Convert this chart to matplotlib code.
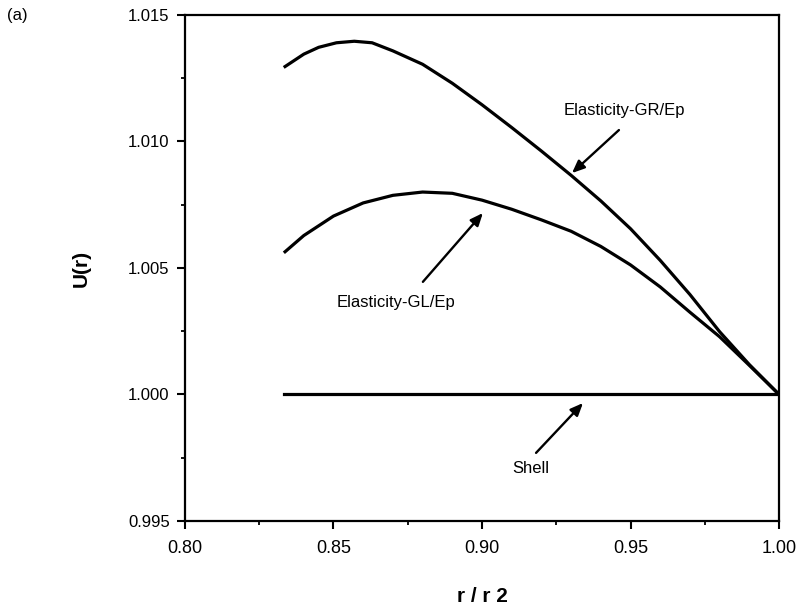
import numpy as np
import matplotlib
matplotlib.use("Agg")
import matplotlib.pyplot as plt

plt.rcParams['font.family'] = ['Liberation Sans', 'DejaVu Sans']

# values (r/r2, U(r))
r_gr = [0.8337, 0.8400, 0.8450, 0.8510, 0.8570, 0.8630, 0.8700, 0.8800, 0.8900,
        0.9000, 0.9100, 0.9200, 0.9300, 0.9400, 0.9500, 0.9600, 0.9700, 0.9800,
        0.9900, 1.0000]
u_gr = [1.01296, 1.01345, 1.01372, 1.01390, 1.01396, 1.01390, 1.01358, 1.01305, 1.01230,
        1.01145, 1.01055, 1.00962, 1.00866, 1.00765, 1.00655, 1.00530, 1.00395, 1.00248,
        1.00118, 1.00000]

r_gl = [0.8337, 0.8400, 0.8500, 0.8600, 0.8700, 0.8800, 0.8900, 0.9000, 0.9100,
        0.9200, 0.9300, 0.9400, 0.9500, 0.9600, 0.9700, 0.9800, 0.9900, 1.0000]
u_gl = [1.00564, 1.00628, 1.00705, 1.00757, 1.00787, 1.00800, 1.00795, 1.00768, 1.00732,
        1.00690, 1.00645, 1.00585, 1.00512, 1.00425, 1.00325, 1.00228, 1.00115, 1.00000]

r_shell = [0.8333, 1.0000]
u_shell = [1.0000, 1.0000]

fig = plt.figure(figsize=(7.99, 6.10), dpi=100)
ax = fig.add_axes([0.2315, 0.146, 0.7435, 0.8295])

lw = 2.3
ax.plot(r_gr, u_gr, color='black', lw=lw)
ax.plot(r_gl, u_gl, color='black', lw=lw)
ax.plot(r_shell, u_shell, color='black', lw=lw)

ax.set_xlim(0.80, 1.00)
ax.set_ylim(0.995, 1.015)
ax.set_xticks([0.80, 0.85, 0.90, 0.95, 1.00])
ax.set_xticklabels(['0.80', '0.85', '0.90', '0.95', '1.00'])
ax.set_yticks([0.995, 1.000, 1.005, 1.010, 1.015])
ax.set_yticklabels(['0.995', '1.000', '1.005', '1.010', '1.015'])
ax.set_xticks([0.825, 0.875, 0.925, 0.975], minor=True)
ax.set_yticks([0.9975, 1.0025, 1.0075, 1.0125], minor=True)

for s in ax.spines.values():
    s.set_linewidth(1.6)
ax.tick_params(axis='both', which='major', direction='out', width=1.5, length=6, labelsize=12)
ax.tick_params(axis='both', which='minor', direction='out', width=1.3, length=3)
ax.tick_params(axis='x', which='major', pad=8, labelsize=13)
ax.tick_params(axis='y', which='major', pad=5)

ax.set_xlabel('r / r 2', fontsize=15, fontweight='bold', labelpad=21)
ax.set_ylabel('U(r)', fontsize=15, fontweight='bold', labelpad=27)

arrow = dict(arrowstyle='-|>,head_length=0.75,head_width=0.32', color='black', lw=1.7,
             shrinkA=0, shrinkB=0)
ax.text(0.9478, 1.01124, 'Elasticity-GR/Ep', fontsize=12, ha='center', va='center')
ax.annotate('', xy=(0.9303, 1.00875), xytext=(0.9461, 1.01045), arrowprops=arrow)
ax.text(0.8710, 1.00365, 'Elasticity-GL/Ep', fontsize=12, ha='center', va='center')
ax.annotate('', xy=(0.9003, 1.00717), xytext=(0.8801, 1.00445), arrowprops=arrow)
ax.text(0.9165, 0.99709, 'Shell', fontsize=12, ha='center', va='center')
ax.annotate('', xy=(0.9340, 0.99966), xytext=(0.9182, 0.99769), arrowprops=arrow)

fig.text(0.009, 0.975, '(a)', fontsize=12, ha='left', va='center')

fig.savefig('out.png', dpi=100)
